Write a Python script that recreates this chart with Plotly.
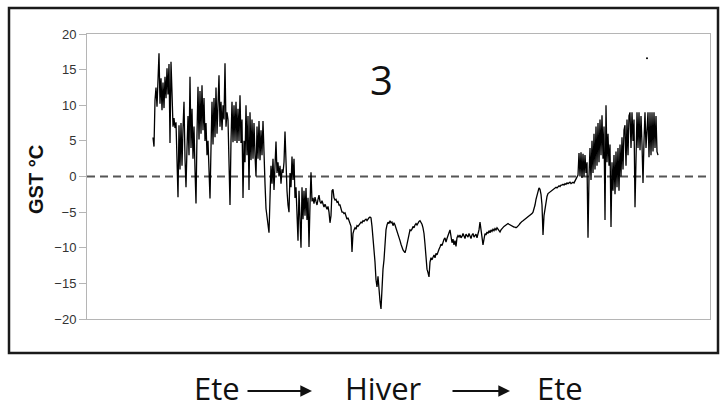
import plotly.graph_objects as go

# Ground surface temperature (°C), one reading per time step (summer -> winter -> summer)
gst = [
    5.5, 4.2, 10.7, 12.5, 9.8, 13.5, 17.3, 10.2, 13.8, 9.3,
    13.2, 9.6, 14.0, 11.0, 15.2, 11.5, 15.8, 4.7, 16.1, 11.8,
    7.0, 8.2, 6.8, 7.6, 2.0, -2.9, 7.2, 1.0, 7.5, 1.5,
    6.8, 10.5, 2.5, -1.5, 4.0, 8.5, 3.0, 14.0, 4.0, 9.5,
    2.5, 7.0, 1.0, -3.8, 6.0, 12.6, 5.2, 12.0, 6.0, 12.8,
    6.5, 11.0, 5.0, 7.5, 3.0, 5.0, 1.0, -3.1, 4.0, 10.5,
    4.5, 11.0, 5.5, 12.5, 6.0, 11.5, 14.2, 7.0, 10.5, 6.5,
    10.0, 8.0, 15.9, 7.0, 9.0, 8.0, 2.0, -4.0, 5.0, 10.5,
    4.8, 10.0, 5.0, 10.5, 4.7, 9.5, 5.0, 11.4, 4.7, 8.0,
    -3.0, 5.0, 2.0, 10.0, 3.0, 8.5, -1.9, 9.0, 2.3, 8.0,
    2.5, 7.5, 3.0, 0.0, 7.0, 2.5, 7.8, 2.3, 6.5, 3.0,
    7.8, 2.0, -1.0, -4.5, -6.0, -7.0, -7.9, -3.0, 1.5, -1.0,
    2.5, -1.9, 3.5, 4.9, 0.5, 2.0, 0.0, 1.5, -1.0, 1.0,
    0.5, 2.0, 6.3, 1.0, -2.0, -4.0, -5.0, 0.5, -1.5, 2.8,
    -0.5, 2.5, -3.0, -1.5, -6.5, -9.0, -2.0, -8.0, -10.0, -1.5,
    -6.0, -2.0, -5.5, -1.6, -6.1, -3.0, -9.9, -4.0, 0.6, -3.5,
    -3.0, -3.8, -2.9, -3.5, -4.0, -3.2, -2.6, -3.5, -3.8, -3.4,
    -4.0, -4.3, -3.9, -4.4, -4.6, -4.2, -5.0, -6.5, -5.5, -2.0,
    -1.8, -3.0, -3.3, -3.2, -3.6, -3.5, -4.0, -4.0, -4.5, -5.0,
    -5.0, -5.2, -5.1, -5.5, -6.0, -5.8, -6.2, -6.4, -7.0, -10.6,
    -8.0, -7.5, -7.2, -7.4, -6.9, -7.0, -6.7, -6.6, -6.4, -6.5,
    -6.2, -6.3, -6.1, -6.0, -6.2, -5.9, -5.8, -5.7, -5.8, -7.0,
    -8.5, -10.3, -12.0, -14.5, -15.5, -14.0, -16.5, -17.5, -18.6, -15.0,
    -13.0, -11.7, -9.0, -7.5, -6.8, -6.4, -6.6, -6.2, -6.5, -6.4,
    -6.9, -6.5, -6.8, -7.2, -7.5, -8.0, -8.5, -9.0, -9.5, -10.0,
    -10.3, -10.5, -10.7, -10.2, -9.5, -8.8, -8.0, -7.5, -7.6, -7.4,
    -7.0, -7.2, -6.8, -6.6, -6.8, -6.5, -6.3, -6.2, -6.4, -6.7,
    -7.2, -8.0, -9.5, -11.5, -13.0, -13.5, -14.1, -12.0, -11.4, -11.7,
    -11.2, -11.0, -11.4, -10.8, -11.0, -10.5, -10.2, -9.9, -9.5, -9.7,
    -9.0, -8.8, -8.6, -9.2, -8.7, -8.4, -7.9, -7.5, -8.5, -9.3,
    -8.8, -9.6, -9.0, -9.8, -8.6, -8.3, -8.5, -8.2, -8.6, -8.4,
    -8.0, -8.3, -8.7, -8.1, -8.3, -8.5, -8.0, -8.4, -8.7, -8.2,
    -8.0, -8.5, -8.3, -8.1, -8.6, -8.0, -7.5, -6.4, -8.0, -8.5,
    -9.6, -8.5, -8.0, -8.2, -7.8, -8.0, -7.6, -7.9, -7.5, -7.7,
    -7.4, -7.6, -7.3, -7.5, -7.2, -7.4, -7.6, -7.8, -7.5, -7.3,
    -7.2, -7.0, -6.9, -6.8, -6.7, -6.6, -6.7, -6.8, -6.9, -7.0,
    -7.0, -7.1, -7.1, -7.2, -7.1, -7.0, -6.8, -6.6, -6.4, -6.3,
    -6.2, -6.1, -6.0, -5.9, -5.8, -5.7, -5.6, -5.5, -5.4, -5.2,
    -5.0, -4.6, -4.0, -3.2, -2.5, -2.0, -1.6, -1.8, -2.5, -4.0,
    -8.2, -5.5, -4.5, -3.5, -2.8, -2.4, -2.3, -2.2, -2.0, -1.9,
    -1.9, -1.8, -1.6, -1.5, -1.6, -1.4, -1.3, -1.4, -1.2, -1.2,
    -1.1, -1.2, -1.0, -1.1, -0.9, -1.0, -0.9, -0.8, -1.0, -0.9,
    -0.8, -0.9, -0.6, -0.4, -0.2, 0.2, 3.3, 0.0, 3.4, -0.2,
    3.2, 0.0, 3.0, 0.5, 2.0, -8.6, 0.0, 4.0, -0.5, 5.0,
    0.5, 6.0, 1.0, 7.0, 1.5, 7.5, 2.0, 8.0, 3.0, 8.6,
    2.5, 7.0, -6.1, 10.0, 2.0, 6.0, 1.5, 4.5, -7.1, 2.0,
    -2.0, 3.0, -2.5, 3.5, -1.5, 4.0, -2.0, 4.5, 0.0, 5.5,
    1.0, 6.5, 7.2, 1.5, 8.0, 3.0, 8.5, 9.0, 4.0, 9.0,
    5.0, 8.0, -4.3, 5.0, 9.0, 4.0, 9.0, 3.7, 8.5, 4.5,
    -0.9, 5.0, 9.0, 4.0, 8.0, 9.0, 2.7, 9.0, 3.0, 9.0,
    3.5, 9.0, 4.0, 8.5, 3.5, 3.0,
]
steps = list(range(len(gst)))

# stray single reading near the top right
stray_step = [494]
stray_val = [16.6]

y_ticks = [20, 15, 10, 5, 0, -5, -10, -15, -20]
panel_label = "3"
season_words = ["Ete", "Hiver", "Ete"]
y_title = "GST °C"

L, R, T, B = 87, 710, 34, 319          # plot area in page pixels
PW, PH = R - L, B - T


def px(x):
    return (x - L) / PW


def py(y):
    return (B - y) / PH


def label(text, x, y, size, family, angle=0):
    fig.add_annotation(text=text, xref="paper", yref="paper", x=px(x), y=py(y),
                       xanchor="center", yanchor="middle", showarrow=False,
                       textangle=angle,
                       font=dict(family=family, size=size, color="#111111"))


fig = go.Figure()
fig.add_trace(go.Scatter(x=steps, y=gst, mode="lines",
                         line=dict(color="black", width=1.3),
                         showlegend=False, hoverinfo="skip"))
fig.add_trace(go.Scatter(x=stray_step, y=stray_val, mode="markers",
                         marker=dict(color="black", size=2),
                         showlegend=False, hoverinfo="skip"))

fig.add_shape(type="line", xref="paper", yref="y", x0=0, x1=1, y0=0, y1=0,
              line=dict(color="#555555", width=2, dash="8px,5px"), layer="below")

# outer frame
fig.add_shape(type="rect", xref="paper", yref="paper",
              x0=px(9), x1=px(718), y0=py(353), y1=py(8),
              line=dict(color="#1a1a1a", width=2.5))

label(panel_label, 381, 80, 40, "Open Sans, Liberation Sans")
label("<b>" + y_title + "</b>", 36, 180, 20, "Liberation Sans, Arial", angle=-90)

# season labels and arrows underneath
word_x = [217, 383, 560]
for w, cx in zip(season_words, word_x):
    label(w, cx, 388, 31, "Open Sans, Liberation Sans")
arrow_spans = [(246, 312), (451, 510)]
for x0, x1 in arrow_spans:
    fig.add_annotation(text="", xref="paper", yref="paper", x=px(x1), y=py(391),
                       ax=-(x1 - x0), ay=0, axref="pixel", ayref="pixel",
                       showarrow=True, arrowhead=2, arrowsize=1.3, arrowwidth=1.8,
                       arrowcolor="#111111")

fig.update_layout(
    width=720, height=412,
    margin=dict(l=L, r=720 - R, t=T, b=412 - B),
    paper_bgcolor="white", plot_bgcolor="white",
    xaxis=dict(range=[-66, 557], showticklabels=False, ticks="", showgrid=False,
               zeroline=False, showline=True, linecolor="#b5b5b5", linewidth=1, mirror=True),
    yaxis=dict(range=[-20, 20], tickvals=y_ticks, ticks="outside", ticklen=7,
               tickcolor="#b5b5b5", showgrid=False, zeroline=False, showline=True,
               linecolor="#b5b5b5", linewidth=1, mirror=True,
               tickfont=dict(family="Liberation Sans, Arial", size=13, color="#333333")),
)

fig.write_html("out.html", config={"displayModeBar": False},
               post_script="document.body.style.margin='0';document.body.style.overflow='hidden';")
